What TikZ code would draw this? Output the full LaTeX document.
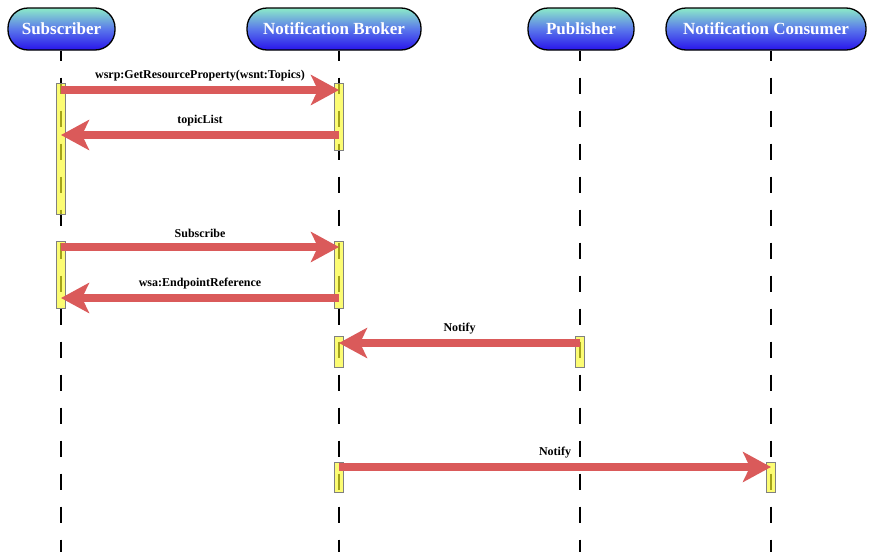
\documentclass[tikz,border=0pt]{standalone}
\usepackage{fontspec}
\setmainfont{Liberation Serif}
\usetikzlibrary{arrows.meta}

\definecolor{msgred}{RGB}{218,90,90}
\definecolor{bary}{RGB}{250,250,40}
\definecolor{hdtop}{RGB}{140,235,200}
\definecolor{hdmid}{RGB}{90,120,235}
\definecolor{hdbot}{RGB}{40,20,235}

\begin{document}
\begin{tikzpicture}[x=1pt,y=-1pt,
  actor/.style={draw=black,line width=1.3pt,rounded corners=20pt,minimum height=42pt,inner sep=0pt,
    top color=hdtop,bottom color=hdbot,middle color=hdmid,text=white,font=\fontsize{17}{20}\selectfont\bfseries},
  life/.style={line width=2.5pt,dash pattern=on 16pt off 17pt,dash phase=6pt},
  act/.style={draw=gray,line width=0.8pt,fill=bary,fill opacity=0.65,minimum width=9pt,inner sep=0pt},
  msg/.style={draw=msgred,line width=7.5pt,-{Stealth[length=28pt,width=30pt,inset=7pt]}},
  lbl/.style={font=\fontsize{12}{14}\selectfont\bfseries,above=2pt}]
\useasboundingbox (0,0) rectangle (869,552);

% participants
\node[actor,minimum width=107pt] (sub) at (61.5,29) {Subscriber};
\node[actor,minimum width=174pt] (nb) at (334,29) {Notification Broker};
\node[actor,minimum width=106pt] (pub) at (581,29) {Publisher};
\node[actor,minimum width=200pt] (nc) at (766,29) {Notification Consumer};

% lifelines
\coordinate (L-sub) at (61,552);
\coordinate (L-nb) at (339,552);
\coordinate (L-pub) at (580,552);
\coordinate (L-nc) at (771,552);
\foreach \n in {sub,nb,pub,nc}
  \draw[life] (L-\n |- \n.south) -- (L-\n);

% activations
\node[act,minimum height=131pt] (subA) at (61,148.5) {};
\node[act,minimum height=67pt] (nbA) at (339,116.5) {};
\node[act,minimum height=67pt] (subB) at (61,274.5) {};
\node[act,minimum height=67pt] (nbB) at (339,274.5) {};
\node[act,minimum height=31pt] (nbC) at (339,351.5) {};
\node[act,minimum height=31pt] (pubA) at (580,351.5) {};
\node[act,minimum height=30pt] (nbD) at (339,477) {};
\node[act,minimum height=30pt] (ncA) at (771,477) {};

% messages
\coordinate (m1) at (0,90);
\coordinate (m2) at (0,135);
\coordinate (m3) at (0,247);
\coordinate (m4) at (0,298);
\coordinate (m5) at (0,343);
\coordinate (m6) at (0,467);
\draw[msg] (subA |- m1) -- (nbA |- m1) node[lbl,midway]{wsrp:GetResourceProperty(wsnt:Topics)};
\draw[msg] (nbA |- m2) -- (subA |- m2) node[lbl,midway]{topicList};
\draw[msg] (subB |- m3) -- (nbB |- m3) node[lbl,midway]{Subscribe};
\draw[msg] (nbB |- m4) -- (subB |- m4) node[lbl,midway]{wsa:EndpointReference};
\draw[msg] (pubA |- m5) -- (nbC |- m5) node[lbl,midway]{Notify};
\draw[msg] (nbD |- m6) -- (ncA |- m6) node[lbl,midway]{Notify};
\end{tikzpicture}
\end{document}
